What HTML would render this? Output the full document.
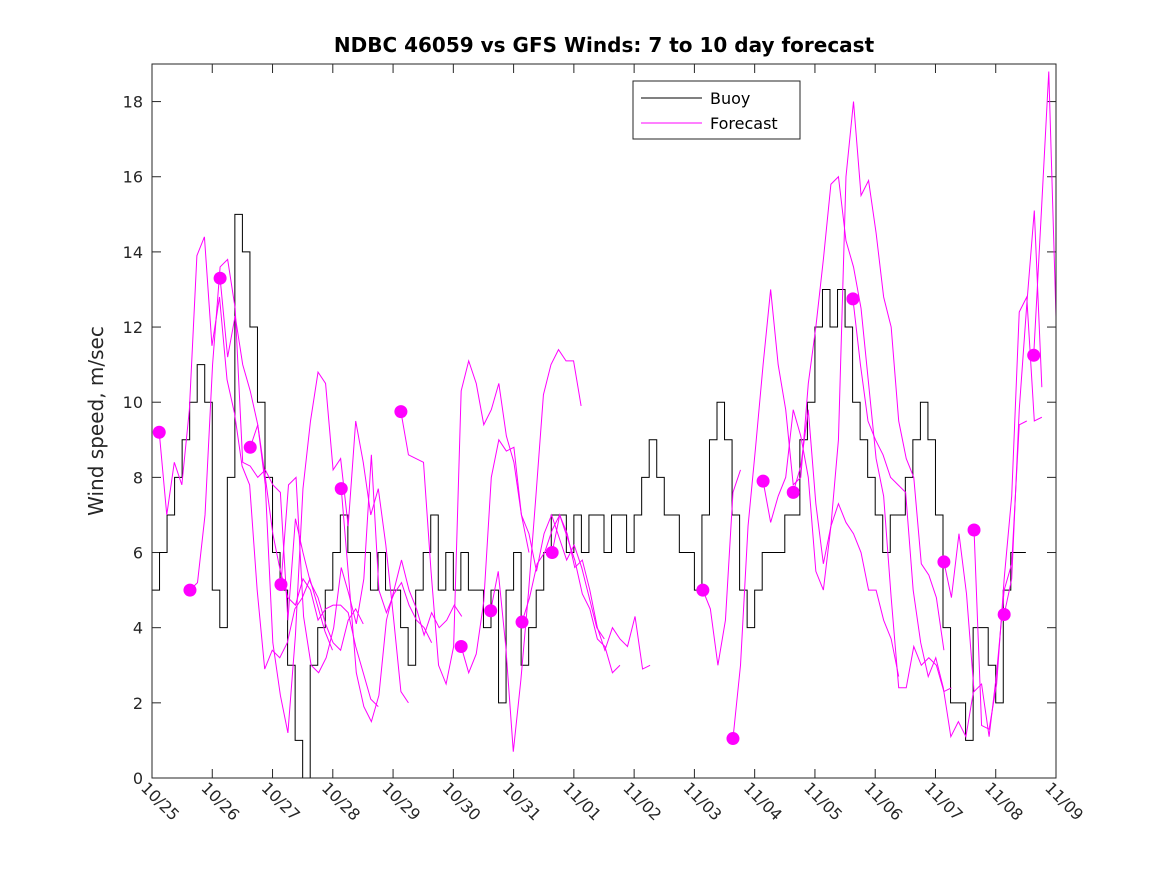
<!DOCTYPE html>
<html><head><meta charset="utf-8">
<style>
body{margin:0;background:#fff;}
svg{display:block;font-family:"DejaVu Sans","Liberation Sans",sans-serif;}
</style></head>
<body>
<svg id="chart" width="1167" height="875" viewBox="0 0 1167 875">
<defs><clipPath id="pc"><rect x="152" y="64" width="904" height="714"/></clipPath></defs>
<rect width="1167" height="875" fill="#fff"/>
<text x="604" y="52" text-anchor="middle" font-size="20" font-weight="bold" fill="#000">NDBC 46059 vs GFS Winds: 7 to 10 day forecast</text>
<text transform="translate(103,421) rotate(-90)" text-anchor="middle" font-size="20" fill="#262626">Wind speed, m/sec</text>
<g id="plot"></g>
<rect x="152" y="64" width="904" height="714" fill="none" stroke="#262626" stroke-width="1"/>
<g>
<rect x="633" y="81" width="167" height="58" fill="#fff" stroke="#262626"/>
<line x1="641" y1="98" x2="702" y2="98" stroke="#000"/>
<text x="710" y="104" font-size="16" fill="#000">Buoy</text>
<line x1="641" y1="123" x2="702" y2="123" stroke="#f0f"/>
<text x="710" y="129" font-size="16" fill="#000">Forecast</text>
</g>
</svg>
<script>
const xTickLabels=["10/25","10/26","10/27","10/28","10/29","10/30","10/31","11/01","11/02","11/03","11/04","11/05","11/06","11/07","11/08","11/09"];
const yTicks=[0,2,4,6,8,10,12,14,16,18];
const buoyStep=0.125;
const buoyValues=[5,6,7,8,9,10,11,10, 5,4,8,15,14,12,10,8, 6,5,3,1,0,3,4,5, 6,7,6,6,6,5,6,5, 5,4,3,5,6,7,5,6, 5,6,5,5,4,5,2,5, 6,3,4,5,6,7,7,6, 7,6,7,7,6,7,7,6, 7,8,9,8,7,7,6,6, 5,7,9,10,9,7,5,4, 5,6,6,6,7,7,9,10, 12,13,12,13,12,10,9,8, 7,6,7,7,8,9,10,9, 7,4,2,2,1,4,4,3, 2,5,6,6];
const fcStep=0.125;
const fcStarts=[0.12,0.63,1.13,1.63,2.14,3.14,4.13,5.13,5.62,6.14,6.64,9.14,9.64,10.14,10.64,11.63,13.14,13.64,14.14,14.63];
const fcValues=[
[9.2,7.0,8.4,7.8,9.8,13.9,14.4,11.5,12.8,10.6,9.7,8.3,7.8,5.0,2.9,3.4,3.2,3.6,4.5,4.8,5.3,4.6,3.9,3.4],
[5.0,5.2,7.0,11.0,13.6,13.8,12.5,8.4,8.3,8.0,8.2,7.8,7.6,4.2,6.9,6.0,5.2,4.8,4.1,3.6,3.4,4.2,4.5,4.1],
[13.3,11.2,12.3,11.0,10.3,9.4,8.0,6.5,5.5,4.8,4.6,5.3,5.0,4.2,4.5,4.6,4.6,4.4,3.5,2.8,2.1,1.9],
[8.8,9.4,7.8,3.6,2.2,1.2,3.8,7.7,9.5,10.8,10.5,8.2,8.5,6.7,9.5,8.4,7.0,7.7,6.2,4.3,2.3,2.0],
[5.15,7.8,8.0,4.3,3.0,2.8,3.2,4.0,5.6,4.9,4.1,5.3,8.6,5.0,4.4,4.9,5.2,4.6,4.2,4.0,3.6],
[7.7,5.3,2.8,1.9,1.5,2.2,4.2,5.0,5.8,5.0,4.5,3.8,4.4,4.0,4.2,4.6,4.3],
[9.75,8.6,8.5,8.4,5.5,3.0,2.5,3.5,10.3,11.1,10.5,9.4,9.8,10.5,9.1,8.4,7.0,6.0],
[3.5,2.8,3.3,4.7,8.0,9.0,8.7,8.8,7.0,6.5,5.5,6.5,7.0,6.4,5.8,6.2,5.6,4.8,4.0,3.7],
[4.45,5.5,3.5,0.7,2.6,4.9,7.5,10.2,11.0,11.4,11.1,11.1,9.9],
[4.15,4.8,5.7,6.0,6.6,7.0,6.4,5.8,4.9,4.5,3.7,3.5,2.8,3.0],
[6.0,7.0,6.5,5.6,5.8,5.0,4.0,3.4,4.0,3.7,3.5,4.3,2.9,3.0],
[5.0,4.5,3.0,4.2,7.6,8.2],
[1.05,3.0,6.7,8.8,11.0,13.0,11.0,9.8,7.8,8.0,10.5,12.0,13.8,15.8,16.0,14.3,13.6,12.5,10.5,8.5,7.5,4.8,2.4,2.4,3.5,3.0,3.2,3.0,2.3,2.4],
[7.9,6.8,7.5,8.0,9.8,9.1,8.0,5.5,5.0,6.7,9.0,16.0,18.0,15.5,15.9,14.5,12.8,12.0,9.5,8.5,8.0,5.7,5.4,4.8,3.4],
[7.6,8.3,9.8,7.3,5.7,6.7,7.3,6.8,6.5,6.0,5.0,5.0,4.2,3.7,2.7],
[12.75,11.0,9.5,9.0,8.6,8.0,7.8,7.6,5.0,3.6,2.7,3.2,2.4,1.1,1.5,1.1,2.3],
[5.75,4.8,6.5,4.9,2.3,2.5,1.1,2.8,5.0,5.7,9.4,9.5],
[6.6,1.4,1.3,2.5,5.3,7.5,12.4,12.8,9.5,9.6],
[4.35,5.3,9.8,12.6,15.1,10.4],
[11.25,15.0,18.8,12.0]
];
const NS="http://www.w3.org/2000/svg";
const X0=152,X1=1056,Y0=778,Y1=64,DAYS=15,YMAX=19;
const xs=d=>X0+d*(X1-X0)/DAYS;
const ys=v=>Y0-v*(Y0-Y1)/YMAX;
const plot=document.getElementById('plot');
function mk(tag,attrs){const e=document.createElementNS(NS,tag);for(const k in attrs)e.setAttribute(k,attrs[k]);return e;}
yTicks.forEach(v=>{
  const g=mk('g',{});
  
  
  g.appendChild(mk('line',{x1:X0,x2:X0+9,y1:ys(v),y2:ys(v),stroke:'#262626'}));
  g.appendChild(mk('line',{x1:X1,x2:X1-9,y1:ys(v),y2:ys(v),stroke:'#262626'}));
  const t=mk('text',{x:X0-9,y:ys(v)+6,'text-anchor':'end','font-size':'16',fill:'#262626'});
  t.textContent=v;g.appendChild(t);plot.appendChild(g);
});
xTickLabels.forEach((lab,i)=>{
  const x=xs(i);
  const g=mk('g',{});
  
  
  g.appendChild(mk('line',{x1:x,x2:x,y1:Y0,y2:Y0-9,stroke:'#262626'}));
  g.appendChild(mk('line',{x1:x,x2:x,y1:Y1,y2:Y1+9,stroke:'#262626'}));
  const t=mk('text',{x:0,y:0,'font-size':'16',fill:'#262626',transform:`translate(${x-12},${Y0+11}) rotate(45)`});
  t.textContent=lab;g.appendChild(t);plot.appendChild(g);
});
const clipG=mk('g',{'clip-path':'url(#pc)'});


plot.appendChild(clipG);
let d='';
buoyValues.forEach((v,i)=>{
  const xa=xs(i*buoyStep),xb=xs((i+1)*buoyStep);
  d+=(i===0?'M':'L')+xa+','+ys(v)+'L'+xb+','+ys(v);
});
const bp=mk('path',{d:d,fill:'none',stroke:'#000','stroke-width':'1'});


clipG.appendChild(bp);
fcValues.forEach((arr,k)=>{
  const pts=arr.map((v,i)=>xs(fcStarts[k]+i*fcStep)+','+ys(v)).join(' ');
  const pl=mk('polyline',{points:pts,fill:'none',stroke:'#f0f','stroke-width':'1'});
  
  
  clipG.appendChild(pl);
});
fcValues.forEach((arr,k)=>{
  const c=mk('circle',{cx:xs(fcStarts[k]),cy:ys(arr[0]),r:6.5,fill:'#f0f'});
  
  
  plot.appendChild(c);
});
</script>
</body></html>
